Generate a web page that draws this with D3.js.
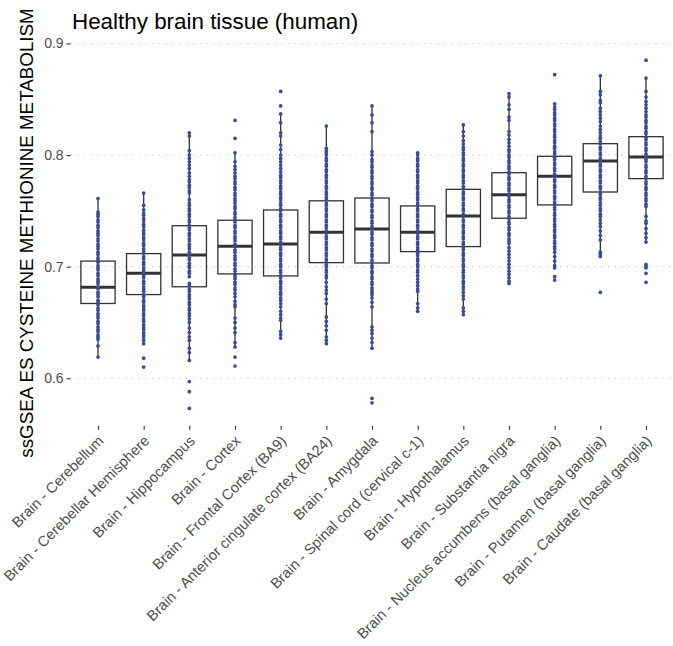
<!DOCTYPE html>
<html>
<head>
<meta charset="utf-8">
<script src="https://cdn.jsdelivr.net/npm/d3@7"></script>
<style>
  body { margin: 0; background: #fff; }
  svg { display: block; font-family: "Liberation Sans", Arial, sans-serif; }
</style>
</head>
<body>
<div id="chart"></div>
<script>
// tissues, ordered by median
const categories = [
  "Brain - Cerebellum",
  "Brain - Cerebellar Hemisphere",
  "Brain - Hippocampus",
  "Brain - Cortex",
  "Brain - Frontal Cortex (BA9)",
  "Brain - Anterior cingulate cortex (BA24)",
  "Brain - Amygdala",
  "Brain - Spinal cord (cervical c-1)",
  "Brain - Hypothalamus",
  "Brain - Substantia nigra",
  "Brain - Nucleus accumbens (basal ganglia)",
  "Brain - Putamen (basal ganglia)",
  "Brain - Caudate (basal ganglia)"
];

// box stats
const q1 =        [0.667, 0.675, 0.682, 0.6935, 0.6917, 0.7036, 0.7033, 0.7135, 0.718, 0.7434, 0.7553, 0.7669, 0.7789];
const medians =   [0.6815, 0.694, 0.7105, 0.7183, 0.7203, 0.7308, 0.7338, 0.7308, 0.7454, 0.7645, 0.781, 0.7947, 0.7983];
const q3 =        [0.705, 0.7117, 0.7367, 0.7416, 0.7508, 0.759, 0.7615, 0.7544, 0.7693, 0.7842, 0.7989, 0.8102, 0.8165];
const whiskerLo = [0.619, 0.631, 0.616, 0.628, 0.636, 0.631, 0.627, 0.660, 0.657, 0.685, 0.699, 0.709, 0.722];
const whiskerHi = [0.761, 0.766, 0.8195, 0.802, 0.837, 0.826, 0.844, 0.802, 0.827, 0.855, 0.846, 0.871, 0.869];

// sample scores (points stack on the centre line)
const cerebellum = [0.761, 0.749, 0.747, 0.745, 0.742, 0.740, 0.737, 0.735, 0.732, 0.730, 0.728, 0.725, 0.723, 0.720, 0.718, 0.716, 0.713, 0.711, 0.708, 0.706, 0.704, 0.701, 0.699, 0.697, 0.694, 0.692, 0.689, 0.687, 0.685, 0.682, 0.680, 0.677, 0.675, 0.673, 0.670, 0.668, 0.666, 0.663, 0.661, 0.658, 0.656, 0.654, 0.651, 0.649, 0.646, 0.644, 0.642, 0.639, 0.637, 0.635, 0.629, 0.619];
const cerebellarHemisphere = [0.766, 0.755, 0.751, 0.748, 0.746, 0.743, 0.741, 0.738, 0.736, 0.733, 0.731, 0.729, 0.726, 0.724, 0.721, 0.719, 0.716, 0.714, 0.712, 0.709, 0.707, 0.704, 0.702, 0.699, 0.697, 0.695, 0.692, 0.690, 0.687, 0.685, 0.682, 0.680, 0.678, 0.675, 0.673, 0.670, 0.668, 0.665, 0.663, 0.661, 0.658, 0.656, 0.653, 0.651, 0.648, 0.646, 0.644, 0.641, 0.639, 0.637, 0.634, 0.631, 0.618, 0.610];
const hippocampus = [0.820, 0.817, 0.804, 0.800, 0.797, 0.794, 0.791, 0.788, 0.784, 0.781, 0.778, 0.776, 0.773, 0.771, 0.768, 0.766, 0.760, 0.757, 0.755, 0.752, 0.750, 0.747, 0.745, 0.742, 0.740, 0.737, 0.735, 0.733, 0.730, 0.728, 0.725, 0.723, 0.720, 0.718, 0.716, 0.713, 0.711, 0.708, 0.706, 0.703, 0.701, 0.699, 0.696, 0.694, 0.691, 0.685, 0.683, 0.680, 0.678, 0.675, 0.673, 0.671, 0.668, 0.666, 0.663, 0.661, 0.658, 0.656, 0.653, 0.650, 0.645, 0.641, 0.637, 0.634, 0.627, 0.623, 0.616, 0.597, 0.588, 0.573];
const cortex = [0.831, 0.815, 0.802, 0.794, 0.790, 0.787, 0.784, 0.781, 0.779, 0.776, 0.774, 0.771, 0.769, 0.766, 0.764, 0.761, 0.759, 0.757, 0.754, 0.752, 0.749, 0.747, 0.744, 0.742, 0.740, 0.737, 0.735, 0.732, 0.730, 0.727, 0.725, 0.723, 0.720, 0.718, 0.715, 0.713, 0.710, 0.708, 0.706, 0.703, 0.701, 0.698, 0.696, 0.693, 0.691, 0.689, 0.686, 0.684, 0.681, 0.679, 0.676, 0.673, 0.669, 0.666, 0.664, 0.654, 0.650, 0.645, 0.641, 0.632, 0.628, 0.619, 0.611];
const frontalCortex = [0.857, 0.844, 0.837, 0.829, 0.820, 0.817, 0.809, 0.805, 0.800, 0.797, 0.794, 0.791, 0.788, 0.785, 0.782, 0.780, 0.777, 0.775, 0.772, 0.770, 0.767, 0.765, 0.762, 0.760, 0.757, 0.755, 0.752, 0.750, 0.747, 0.745, 0.742, 0.740, 0.737, 0.735, 0.732, 0.730, 0.727, 0.725, 0.722, 0.720, 0.717, 0.715, 0.712, 0.710, 0.707, 0.705, 0.702, 0.700, 0.697, 0.695, 0.692, 0.690, 0.687, 0.685, 0.682, 0.680, 0.677, 0.675, 0.672, 0.670, 0.667, 0.664, 0.660, 0.657, 0.654, 0.652, 0.642, 0.639, 0.636];
const anteriorCingulate = [0.826, 0.806, 0.804, 0.802, 0.800, 0.797, 0.795, 0.792, 0.790, 0.787, 0.785, 0.782, 0.780, 0.777, 0.775, 0.772, 0.770, 0.767, 0.765, 0.762, 0.760, 0.757, 0.755, 0.752, 0.750, 0.747, 0.745, 0.742, 0.740, 0.737, 0.735, 0.732, 0.730, 0.727, 0.725, 0.722, 0.720, 0.717, 0.715, 0.712, 0.710, 0.707, 0.705, 0.702, 0.700, 0.697, 0.695, 0.692, 0.690, 0.686, 0.682, 0.679, 0.676, 0.671, 0.667, 0.655, 0.651, 0.647, 0.643, 0.637, 0.634, 0.631];
const amygdala = [0.844, 0.836, 0.829, 0.821, 0.803, 0.800, 0.796, 0.794, 0.791, 0.789, 0.786, 0.784, 0.781, 0.779, 0.776, 0.774, 0.771, 0.769, 0.766, 0.764, 0.761, 0.759, 0.756, 0.754, 0.751, 0.749, 0.746, 0.744, 0.741, 0.739, 0.736, 0.734, 0.731, 0.729, 0.726, 0.724, 0.721, 0.719, 0.716, 0.714, 0.711, 0.709, 0.706, 0.704, 0.701, 0.699, 0.696, 0.694, 0.691, 0.689, 0.686, 0.684, 0.681, 0.679, 0.677, 0.675, 0.672, 0.668, 0.664, 0.646, 0.643, 0.640, 0.636, 0.632, 0.627, 0.582, 0.578];
const spinalCord = [0.802, 0.800, 0.797, 0.795, 0.792, 0.790, 0.787, 0.785, 0.782, 0.780, 0.777, 0.775, 0.772, 0.770, 0.767, 0.765, 0.762, 0.760, 0.757, 0.755, 0.752, 0.750, 0.747, 0.745, 0.742, 0.740, 0.737, 0.735, 0.732, 0.730, 0.727, 0.725, 0.722, 0.720, 0.717, 0.715, 0.712, 0.710, 0.707, 0.705, 0.702, 0.700, 0.697, 0.695, 0.692, 0.689, 0.686, 0.683, 0.680, 0.678, 0.667, 0.663, 0.660];
const hypothalamus = [0.827, 0.821, 0.817, 0.813, 0.810, 0.807, 0.805, 0.802, 0.800, 0.797, 0.795, 0.792, 0.790, 0.787, 0.785, 0.782, 0.780, 0.777, 0.775, 0.772, 0.770, 0.767, 0.765, 0.762, 0.760, 0.757, 0.755, 0.752, 0.750, 0.747, 0.745, 0.742, 0.740, 0.737, 0.735, 0.732, 0.730, 0.727, 0.725, 0.722, 0.720, 0.717, 0.715, 0.712, 0.710, 0.707, 0.705, 0.702, 0.700, 0.697, 0.695, 0.692, 0.690, 0.687, 0.685, 0.682, 0.680, 0.677, 0.674, 0.671, 0.663, 0.660, 0.657];
const substantiaNigra = [0.855, 0.852, 0.845, 0.841, 0.834, 0.831, 0.821, 0.818, 0.814, 0.811, 0.808, 0.805, 0.803, 0.800, 0.798, 0.795, 0.793, 0.790, 0.788, 0.785, 0.783, 0.780, 0.778, 0.775, 0.773, 0.770, 0.768, 0.765, 0.763, 0.760, 0.758, 0.755, 0.753, 0.750, 0.748, 0.745, 0.743, 0.740, 0.738, 0.735, 0.733, 0.730, 0.728, 0.725, 0.723, 0.721, 0.717, 0.714, 0.711, 0.708, 0.705, 0.702, 0.699, 0.696, 0.693, 0.690, 0.687, 0.685];
const nucleusAccumbens = [0.872, 0.846, 0.843, 0.841, 0.838, 0.836, 0.833, 0.831, 0.828, 0.826, 0.823, 0.821, 0.818, 0.816, 0.813, 0.811, 0.808, 0.806, 0.803, 0.801, 0.798, 0.796, 0.793, 0.791, 0.788, 0.786, 0.783, 0.781, 0.778, 0.776, 0.773, 0.771, 0.768, 0.766, 0.763, 0.761, 0.758, 0.756, 0.753, 0.751, 0.748, 0.746, 0.743, 0.741, 0.738, 0.736, 0.733, 0.731, 0.728, 0.726, 0.723, 0.721, 0.718, 0.716, 0.713, 0.709, 0.705, 0.701, 0.699, 0.691, 0.688];
const putamen = [0.871, 0.857, 0.854, 0.849, 0.847, 0.842, 0.839, 0.836, 0.833, 0.830, 0.826, 0.823, 0.820, 0.817, 0.815, 0.812, 0.810, 0.807, 0.805, 0.802, 0.800, 0.797, 0.795, 0.792, 0.790, 0.787, 0.785, 0.782, 0.780, 0.777, 0.775, 0.772, 0.770, 0.767, 0.765, 0.762, 0.760, 0.757, 0.755, 0.752, 0.750, 0.747, 0.745, 0.742, 0.739, 0.736, 0.732, 0.728, 0.724, 0.713, 0.711, 0.709, 0.677];
const caudate = [0.885, 0.869, 0.857, 0.852, 0.848, 0.845, 0.842, 0.839, 0.836, 0.834, 0.831, 0.829, 0.826, 0.824, 0.821, 0.819, 0.816, 0.814, 0.811, 0.809, 0.806, 0.804, 0.801, 0.799, 0.796, 0.794, 0.791, 0.789, 0.786, 0.784, 0.781, 0.779, 0.776, 0.774, 0.771, 0.769, 0.766, 0.764, 0.761, 0.759, 0.756, 0.754, 0.745, 0.741, 0.739, 0.734, 0.730, 0.726, 0.722, 0.702, 0.700, 0.699, 0.694, 0.686];

const samples = [cerebellum, cerebellarHemisphere, hippocampus, cortex, frontalCortex, anteriorCingulate,
  amygdala, spinalCord, hypothalamus, substantiaNigra, nucleusAccumbens, putamen, caudate];

const yTicks = [0.6, 0.7, 0.8, 0.9];

const width = 673;
const height = 646;
const panel = { left: 70.6, right: 673.4, top: 42.8, bottom: 425.8 };

const x = d3.scalePoint()
  .domain(categories)
  .range([panel.left, panel.right])
  .padding(0.6);

const y = d3.scaleLinear()
  .domain([0.5574, 0.9006])
  .range([panel.bottom, panel.top]);

const boxW = x.step() * 0.75;
const ink = "#333333";
const pointColor = "#3a4a9b";

const svg = d3.select("#chart").append("svg")
  .attr("width", width)
  .attr("height", height);

// dotted horizontal grid
svg.append("g")
  .selectAll("line")
  .data(yTicks)
  .join("line")
  .attr("x1", panel.left)
  .attr("x2", width)
  .attr("y1", d => y(d))
  .attr("y2", d => y(d))
  .attr("stroke", "#c4c4c4")
  .attr("stroke-width", 1.1)
  .attr("stroke-dasharray", "1.2,5.6");

// y axis
const yAxis = svg.append("g")
  .attr("transform", `translate(${panel.left},0)`)
  .call(d3.axisLeft(y).tickValues(yTicks).tickFormat(d3.format(".1f")).tickSize(4).tickPadding(3));
yAxis.select(".domain").remove();
yAxis.selectAll(".tick line").attr("stroke", ink).attr("stroke-width", 1.1);
yAxis.selectAll(".tick text")
  .attr("fill", "#4d4d4d")
  .style("font-size", "14px")
  .style("font-family", "Liberation Sans, Arial, sans-serif");

// x axis
const xAxis = svg.append("g")
  .attr("transform", `translate(0,${panel.bottom})`)
  .call(d3.axisBottom(x).tickSize(4).tickPadding(0));
xAxis.select(".domain").remove();
xAxis.selectAll(".tick line").attr("stroke", ink).attr("stroke-width", 1.1);
xAxis.selectAll(".tick text")
  .attr("fill", "#4d4d4d")
  .style("font-size", "14.7px")
  .style("font-family", "Liberation Sans, Arial, sans-serif")
  .attr("text-anchor", "end")
  .attr("y", 0)
  .attr("dy", 0)
  .attr("transform", "translate(6,16) rotate(-45)");

// boxes
const boxes = svg.append("g")
  .selectAll("g")
  .data(categories.map((c, i) => ({ c, i })))
  .join("g")
  .attr("transform", d => `translate(${x(d.c)},0)`);

boxes.append("line")
  .attr("y1", d => y(whiskerHi[d.i]))
  .attr("y2", d => y(q3[d.i]))
  .attr("stroke", ink).attr("stroke-width", 1.3);
boxes.append("line")
  .attr("y1", d => y(q1[d.i]))
  .attr("y2", d => y(whiskerLo[d.i]))
  .attr("stroke", ink).attr("stroke-width", 1.3);
boxes.append("rect")
  .attr("x", -boxW / 2)
  .attr("width", boxW)
  .attr("y", d => y(q3[d.i]))
  .attr("height", d => y(q1[d.i]) - y(q3[d.i]))
  .attr("fill", "none")
  .attr("stroke", ink).attr("stroke-width", 1.3);
boxes.append("line")
  .attr("x1", -boxW / 2)
  .attr("x2", boxW / 2)
  .attr("y1", d => y(medians[d.i]))
  .attr("y2", d => y(medians[d.i]))
  .attr("stroke", ink).attr("stroke-width", 3);

// sample points
const pts = samples.flatMap((vals, i) => vals.map(v => ({ c: categories[i], v })));
svg.append("g")
  .selectAll("circle")
  .data(pts)
  .join("circle")
  .attr("cx", d => x(d.c))
  .attr("cy", d => y(d.v))
  .attr("r", 1.85)
  .attr("fill", pointColor);

// title
svg.append("text")
  .attr("x", 72)
  .attr("y", 29)
  .attr("fill", "#000")
  .style("font-size", "22.4px")
  .text("Healthy brain tissue (human)");

// y title
svg.append("text")
  .attr("transform", `translate(33,${233}) rotate(-90)`)
  .attr("text-anchor", "middle")
  .attr("fill", "#000")
  .style("font-size", "18.8px")
  .text("ssGSEA ES CYSTEINE METHIONINE METABOLISM");
</script>
</body>
</html>
